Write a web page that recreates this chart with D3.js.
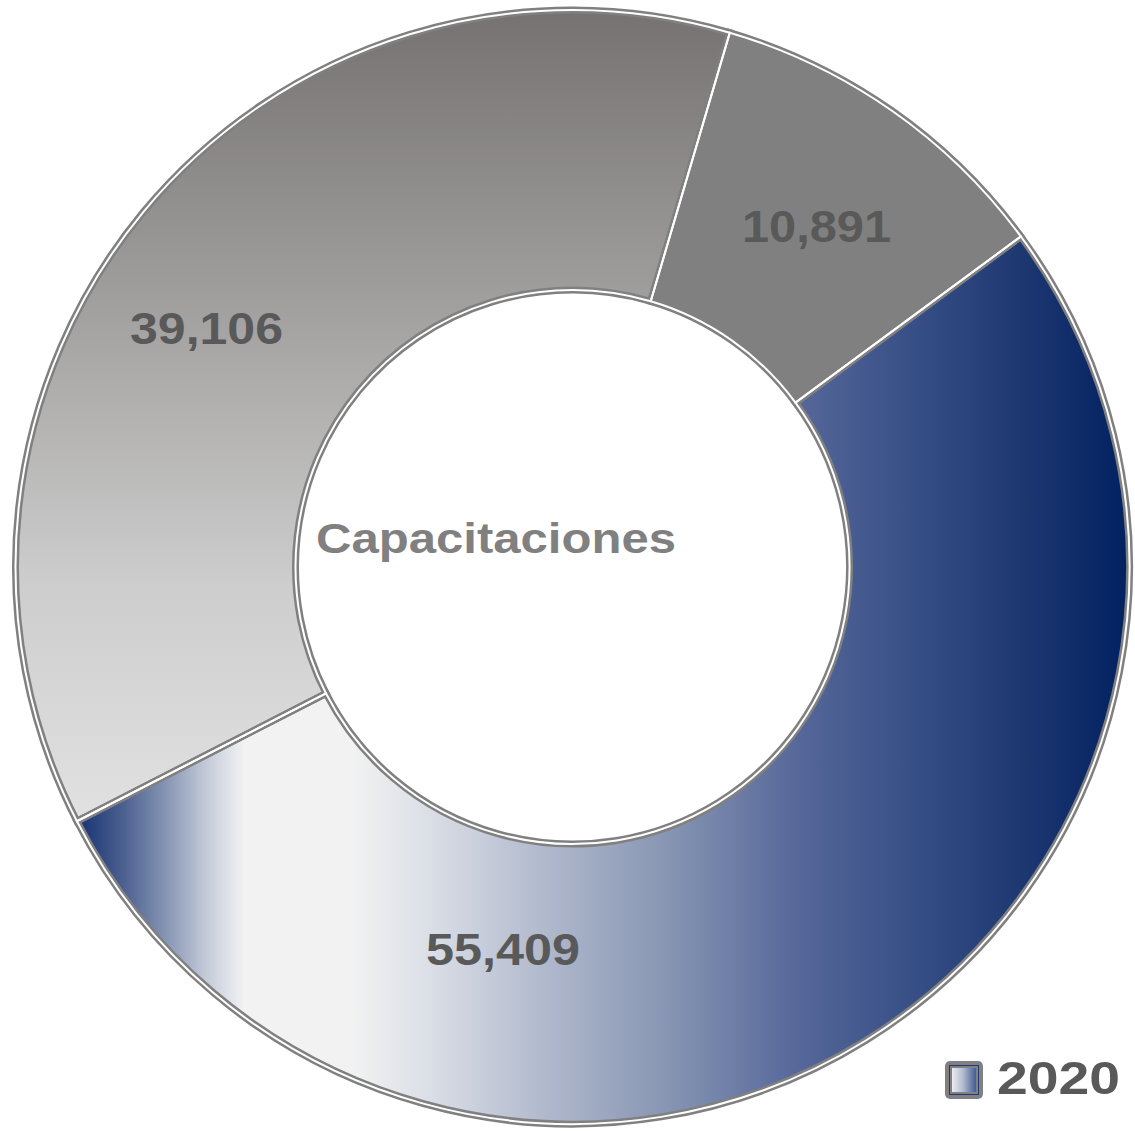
<!DOCTYPE html>
<html>
<head>
<meta charset="utf-8">
<script src="https://cdn.jsdelivr.net/npm/d3@7"></script>
<style>
  html, body { margin: 0; padding: 0; background: #ffffff; }
  svg { display: block; }
  text { font-family: "Liberation Sans", Arial, sans-serif; font-weight: bold; }
</style>
</head>
<body>
<svg id="chart" width="1135" height="1131"></svg>
<script>
// ---- data ----
const sliceIds = ["s1", "s2", "s3"];
const values = [55409, 39106, 10891];
const seriesName = "2020";
const centerTitle = "Capacitaciones";

// ---- layout ----
const cx = 572.5, cy = 567;
const outerR = 557, innerR = 277;
const startDeg = 53.6;

const svg = d3.select("#chart");
const defs = svg.append("defs");

// blue horizontal gradient (slice 1)
const gBlue = defs.append("linearGradient").attr("id", "gBlue")
  .attr("gradientUnits", "userSpaceOnUse")
  .attr("x1", 85).attr("y1", 0).attr("x2", 1133).attr("y2", 0)
  .attr("gradientTransform", `translate(${-cx},${-cy})`);
const blueStops = [
  [0.000, "#1f3a78"], [0.035, "#4a5e8f"], [0.075, "#8292b2"], [0.115, "#c3c9d7"],
  [0.140, "#e2e5eb"], [0.152, "#f2f2f2"], [0.255, "#f2f2f2"], [0.330, "#dadee6"],
  [0.440, "#b0b8cc"], [0.560, "#8594b2"], [0.680, "#56679a"], [0.800, "#344d84"],
  [0.900, "#1c3670"], [1.000, "#002060"]
];
gBlue.selectAll("stop").data(blueStops).join("stop")
  .attr("offset", d => d[0]).attr("stop-color", d => d[1]);

// light gray vertical gradient (slice 2)
const gGray = defs.append("linearGradient").attr("id", "gGray")
  .attr("gradientUnits", "userSpaceOnUse")
  .attr("x1", 0).attr("y1", 6).attr("x2", 0).attr("y2", 830)
  .attr("gradientTransform", `translate(${-cx},${-cy})`);
[[0, "#747170"], [0.35, "#a09e9d"], [0.7, "#cdcdcd"], [1, "#e2e2e2"]].forEach(s =>
  gGray.append("stop").attr("offset", s[0]).attr("stop-color", s[1]));

// legend gradient
const gLeg = defs.append("linearGradient").attr("id", "gLeg")
  .attr("x1", 0).attr("y1", 0).attr("x2", 1).attr("y2", 0);
[[0, "#f0f0f4"], [0.45, "#b5bdd0"], [1, "#3a5590"]].forEach(s =>
  gLeg.append("stop").attr("offset", s[0]).attr("stop-color", s[1]));

const fills = d3.scaleOrdinal().domain(sliceIds)
  .range(["url(#gBlue)", "url(#gGray)", "#808080"]);

const pie = d3.pie().sort(null)
  .startAngle(startDeg * Math.PI / 180)
  .endAngle((startDeg + 360) * Math.PI / 180);
const arcs = pie(values).map((d, i) => Object.assign(d, { id: sliceIds[i] }));
const arc = d3.arc().innerRadius(innerR).outerRadius(outerR);

const g = svg.append("g").attr("transform", `translate(${cx},${cy})`);
g.selectAll("path.fill").data(arcs).join("path")
  .attr("class", "fill")
  .attr("d", arc)
  .attr("fill", d => fills(d.id));

// compound borders: gray - white - gray
g.selectAll("path.b1").data(arcs).join("path")
  .attr("class", "b1").attr("d", arc)
  .attr("fill", "none").attr("stroke", "#808080").attr("stroke-width", 7);
g.selectAll("path.b2").data(arcs).join("path")
  .attr("class", "b2").attr("d", arc)
  .attr("fill", "none").attr("stroke", "#ffffff").attr("stroke-width", 2);

// data labels
const fmt = d3.format(",");
const labelPos = [
  { x: 426, y: 965, w: 154 },
  { x: 130, y: 344, w: 153 },
  { x: 742, y: 242, w: 149 }
];
svg.selectAll("text.val").data(arcs).join("text")
  .attr("class", "val")
  .attr("x", (d, i) => labelPos[i].x)
  .attr("y", (d, i) => labelPos[i].y)
  .attr("font-size", 45)
  .attr("fill", "#595959")
  .attr("textLength", (d, i) => labelPos[i].w)
  .attr("lengthAdjust", "spacingAndGlyphs")
  .text(d => fmt(d.data));

// center title
svg.append("text")
  .attr("x", 316).attr("y", 553)
  .attr("font-size", 42)
  .attr("fill", "#808080")
  .attr("textLength", 360)
  .attr("lengthAdjust", "spacingAndGlyphs")
  .text(centerTitle);

// legend
const leg = svg.append("g");
leg.append("rect").attr("x", 945).attr("y", 1061).attr("width", 38).attr("height", 38)
  .attr("rx", 5).attr("fill", "#808080");
leg.append("rect").attr("x", 949).attr("y", 1065).attr("width", 30).attr("height", 30)
  .attr("fill", "#1f3a78");
leg.append("rect").attr("x", 951).attr("y", 1067).attr("width", 26).attr("height", 26)
  .attr("fill", "url(#gLeg)").attr("stroke", "#808080").attr("stroke-width", 2);
leg.append("text")
  .attr("x", 997).attr("y", 1094)
  .attr("font-size", 46)
  .attr("fill", "#595959")
  .attr("textLength", 123)
  .attr("lengthAdjust", "spacingAndGlyphs")
  .text(seriesName);
</script>
</body>
</html>
